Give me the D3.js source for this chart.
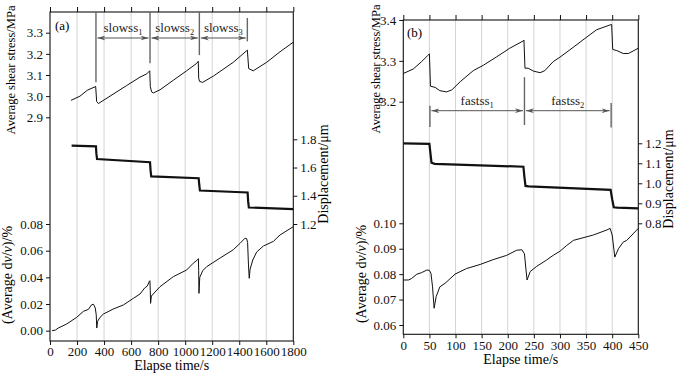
<!DOCTYPE html>
<html><head><meta charset="utf-8">
<script src="https://cdn.jsdelivr.net/npm/d3@7"></script>
<style>
body{margin:0;background:#fff;}
svg{display:block;}
svg text{font-family:"Liberation Serif","LiberationSerif","Times New Roman",Times,"DejaVu Serif","Noto Serif",serif !important;}
</style></head>
<body><svg id="c" width="683" height="374"></svg>
<script>
// ---------- Panel (a) data ----------
const shearA_t = [155,222,276,333,338,345,358,444,567,666,715,738,742,752,764,814,912,1011,1085,1097,1100,1106,1129,1209,1356,1455,1460,1470,1504,1603,1702,1800];
const shearA_v = [2.98,3.0,3.028,3.044,3.046,2.975,2.965,3.0,3.05,3.09,3.105,3.12,3.045,3.02,3.015,3.03,3.075,3.12,3.155,3.165,3.085,3.07,3.065,3.095,3.16,3.215,3.218,3.13,3.12,3.16,3.21,3.255];
const dispA_t = [160,340,343,348,740,744,749,1100,1104,1109,1462,1466,1471,1800];
const dispA_v = [1.755,1.75,1.70,1.66,1.638,1.58,1.537,1.524,1.48,1.437,1.423,1.36,1.317,1.306];
const dvvA_t = [15,40,61,123,197,247,284,308,322,335,342,346,352,370,395,469,543,617,666,700,720,735,739,742,744,750,777,814,912,1011,1060,1090,1098,1100,1102,1108,1130,1159,1257,1356,1406,1442,1455,1462,1468,1474,1480,1500,1529,1579,1653,1702,1800];
const dvvA_v = [0.000,0.0005,0.002,0.005,0.010,0.0145,0.016,0.0195,0.0198,0.017,0.012,0.002,0.007,0.010,0.0125,0.0163,0.0193,0.0243,0.0275,0.032,0.0335,0.037,0.0375,0.030,0.0205,0.026,0.029,0.033,0.0405,0.0455,0.0506,0.053,0.054,0.045,0.028,0.040,0.045,0.048,0.0544,0.0607,0.0655,0.0693,0.069,0.066,0.050,0.0393,0.046,0.053,0.059,0.0635,0.067,0.0718,0.078];
const xTicksA = [0,200,400,600,800,1000,1200,1400,1600,1800];
const shearTicksA = [2.9,3.0,3.1,3.2,3.3];
const dispTicksA = [1.2,1.4,1.6,1.8];
const dvvTicksA = [0.00,0.02,0.04,0.06,0.08];
const annA_t = [340,740,1105,1460];
const annA_top = [3.4,3.4,3.4,3.37];
const annA_bot = [3.066,3.156,3.194,3.259];
const segLabelsA = ["slowss","slowss","slowss"];
const segSubsA = ["1","2","3"];

// ---------- Panel (b) data ----------
const shearB_t = [0,19,35,46,50,52,61,70,83,93,109,134,153,179,204,230,231,233,239,249,262,271,287,300,319,348,370,396,399,401,409,421,431,440,450];
const shearB_v = [3.269,3.28,3.298,3.312,3.317,3.238,3.235,3.227,3.224,3.229,3.249,3.276,3.289,3.31,3.331,3.349,3.351,3.282,3.282,3.275,3.271,3.276,3.298,3.309,3.327,3.355,3.376,3.388,3.389,3.328,3.325,3.318,3.318,3.324,3.331];
const dispB_t = [0,50,52,54,60,230,232,234,240,397,400,403,410,450];
const dispB_v = [1.2,1.197,1.15,1.103,1.097,1.083,1.03,0.987,0.985,0.967,0.92,0.88,0.878,0.875];
const dvvB_t = [0,10,16,26,35,45,50,53,56,59,63,70,80,99,121,147,172,198,217,227,232,235,237,243,255,274,287,300,313,326,364,390,396,400,405,412,421,428,450];
const dvvB_v = [0.0777,0.0777,0.0783,0.080,0.0806,0.0816,0.0815,0.0803,0.075,0.0666,0.0712,0.075,0.0764,0.080,0.0822,0.0838,0.0857,0.0874,0.0894,0.0896,0.088,0.0816,0.0777,0.081,0.083,0.0855,0.0874,0.089,0.0913,0.0933,0.0954,0.0974,0.098,0.0954,0.0867,0.090,0.0926,0.0933,0.098];
const xTicksB = [0,50,100,150,200,250,300,350,400,450];
const shearTicksB = [3.2,3.3,3.4];
const dispTicksB = [0.8,0.9,1.0,1.1,1.2];
const dvvTicksB = [0.06,0.07,0.08,0.09,0.10];
const annB_t = [51,232,398];
const annB_top = [3.19,3.26,3.197];
const annB_bot = [3.138,3.143,3.137];
const segLabelsB = ["fastss","fastss"];
const segSubsB = ["1","2"];

const svg = d3.select("#c");
const FS = 13;

function panel(cfg){
  const g = svg.append("g");
  const x = d3.scaleLinear().domain(cfg.xDom).range([cfg.L, cfg.R]);
  const yS = d3.scaleLinear().domain(cfg.sDom).range(cfg.sRange);
  const yD = d3.scaleLinear().domain(cfg.dDom).range(cfg.dRange);
  const yV = d3.scaleLinear().domain(cfg.vDom).range(cfg.vRange);

  g.selectAll(".grid").data(cfg.xTicks.slice(1,-1)).join("line")
    .attr("x1",d=>x(d)).attr("x2",d=>x(d)).attr("y1",cfg.T).attr("y2",cfg.B)
    .attr("stroke","#d4d4d4").attr("stroke-width",1);

  const style = sel=>{sel.select(".domain").remove();
    sel.attr("font-family",null);
    sel.selectAll("text").attr("font-size",FS).attr("fill","#111");
    sel.selectAll("line").attr("stroke","#111");};
  g.append("g").attr("transform",`translate(0,${cfg.B})`)
    .call(d3.axisBottom(x).tickValues(cfg.xTicks).tickSize(4).tickPadding(2).tickFormat(d3.format("d"))).call(style);
  g.append("g").attr("transform",`translate(0,${cfg.T})`)
    .call(d3.axisTop(x).tickValues(cfg.xTicks).tickSize(5).tickFormat("")).call(style);
  g.append("g").attr("transform",`translate(${cfg.L},0)`)
    .call(d3.axisLeft(yS).tickValues(cfg.sTicks).tickSize(4).tickPadding(3).tickFormat(d3.format(".1f"))).call(style);
  g.append("g").attr("transform",`translate(${cfg.L},0)`)
    .call(d3.axisLeft(yV).tickValues(cfg.vTicks).tickSize(4).tickPadding(3).tickFormat(d3.format(".2f"))).call(style);
  g.append("g").attr("transform",`translate(${cfg.R},0)`)
    .call(d3.axisRight(yD).tickValues(cfg.dTicks).tickSize(4).tickPadding(3).tickFormat(d3.format(".1f"))).call(style);

  g.append("rect").attr("x",cfg.L).attr("y",cfg.T).attr("width",cfg.R-cfg.L).attr("height",cfg.B-cfg.T)
    .attr("fill","none").attr("stroke","#111").attr("stroke-width",1.1);

  cfg.annT.forEach((t,i)=>{
    g.append("line").attr("x1",x(t)).attr("x2",x(t)).attr("y1",yS(cfg.annTop[i])).attr("y2",yS(cfg.annBot[i]))
      .attr("stroke","#666").attr("stroke-width",1.4);
  });
  const mid = "arr"+cfg.id;
  const defs = svg.append("defs");
  defs.append("marker").attr("id",mid+"e").attr("viewBox","0 0 10 6").attr("refX",10).attr("refY",3)
    .attr("markerWidth",8).attr("markerHeight",5).attr("markerUnits","userSpaceOnUse").attr("orient","auto")
    .append("path").attr("d","M0,0 L10,3 L0,6 L3,3 Z").attr("fill","#555");
  defs.append("marker").attr("id",mid+"s").attr("viewBox","0 0 10 6").attr("refX",0).attr("refY",3)
    .attr("markerWidth",8).attr("markerHeight",5).attr("markerUnits","userSpaceOnUse").attr("orient","auto")
    .append("path").attr("d","M10,0 L0,3 L10,6 L7,3 Z").attr("fill","#555");
  for(let i=0;i<cfg.segLabels.length;i++){
    const x0 = x(cfg.annT[i])+1.5, x1 = x(cfg.annT[i+1])-1.5;
    g.append("line").attr("x1",x0).attr("x2",x1).attr("y1",cfg.arrowY).attr("y2",cfg.arrowY)
      .attr("stroke","#555").attr("stroke-width",1)
      .attr("marker-start",`url(#${mid}s)`).attr("marker-end",`url(#${mid}e)`);
    const tx = g.append("text").attr("x",(x0+x1)/2).attr("y",cfg.arrowY-6).attr("text-anchor","middle")
      .attr("font-size",FS).attr("fill","#222");
    tx.append("tspan").text(cfg.segLabels[i]);
    tx.append("tspan").text(cfg.segSubs[i]).attr("font-size",8.5).attr("dy",3);
  }

  const mk = (ts,vs,y)=>d3.line().x((d,i)=>x(ts[i])).y((d,i)=>y(vs[i]))(ts);
  g.append("path").attr("d",mk(cfg.sT,cfg.sV,yS)).attr("fill","none").attr("stroke","#111").attr("stroke-width",1);
  g.append("path").attr("d",mk(cfg.dT,cfg.dV,yD)).attr("fill","none").attr("stroke","#111").attr("stroke-width",2.2);
  g.append("path").attr("d",mk(cfg.vT,cfg.vV,yV)).attr("fill","none").attr("stroke","#111").attr("stroke-width",1);

  g.append("text").attr("x",cfg.panelX).attr("y",cfg.panelY).attr("font-size",FS).text(cfg.panel);
  g.append("text").attr("x",(cfg.L+cfg.R)/2).attr("y",cfg.xLabY).attr("text-anchor","middle").attr("font-size",14).text("Elapse time/s");
  const rot = (xx,yy,fs)=>g.append("text").attr("transform",`translate(${xx},${yy}) rotate(-90)`)
    .attr("text-anchor","middle").attr("font-size",fs);
  rot(cfg.sLab[0],cfg.sLab[1],12.5).text("Average shear stress/MPa");
  rot(cfg.dLab[0],cfg.dLab[1],14).text("Displacement/\u03bcm");
  const tv = rot(cfg.vLab[0],cfg.vLab[1],14);
  tv.append("tspan").text("(Average d");
  tv.append("tspan").text("v").attr("font-style","italic");
  tv.append("tspan").text("/");
  tv.append("tspan").text("v").attr("font-style","italic");
  tv.append("tspan").text(")/%");
}

panel({id:"a", xDom:[0,1800], L:50, R:293.3, T:12, B:341,
  sDom:[2.9,3.3], sRange:[117.3,32.7], dDom:[1.2,1.8], dRange:[224,139.3], vDom:[0,0.08], vRange:[330.7,224],
  xTicks:xTicksA, sTicks:shearTicksA, dTicks:dispTicksA, vTicks:dvvTicksA,
  annT:annA_t, annTop:annA_top, annBot:annA_bot, arrowY:38, segLabels:segLabelsA, segSubs:segSubsA,
  sT:shearA_t, sV:shearA_v, dT:dispA_t, dV:dispA_v, vT:dvvA_t, vV:dvvA_v,
  panel:"(a)", panelX:55, panelY:30, xLabY:370,
  sLab:[15,70], dLab:[328,174], vLab:[12,275]});

panel({id:"b", xDom:[0,450], L:403.3, R:638.3, T:20, B:334.3,
  sDom:[3.2,3.4], sRange:[101.7,20], dDom:[0.8,1.2], dRange:[223.3,143.3], vDom:[0.06,0.10], vRange:[325,223.3],
  xTicks:xTicksB, sTicks:shearTicksB, dTicks:dispTicksB, vTicks:dvvTicksB,
  annT:annB_t, annTop:annB_top, annBot:annB_bot, arrowY:110.7, segLabels:segLabelsB, segSubs:segSubsB,
  sT:shearB_t, sV:shearB_v, dT:dispB_t, dV:dispB_v, vT:dvvB_t, vV:dvvB_v,
  panel:"(b)", panelX:407, panelY:37, xLabY:364,
  sLab:[380,69], dLab:[673,179], vLab:[366,274]});
</script></body></html>
